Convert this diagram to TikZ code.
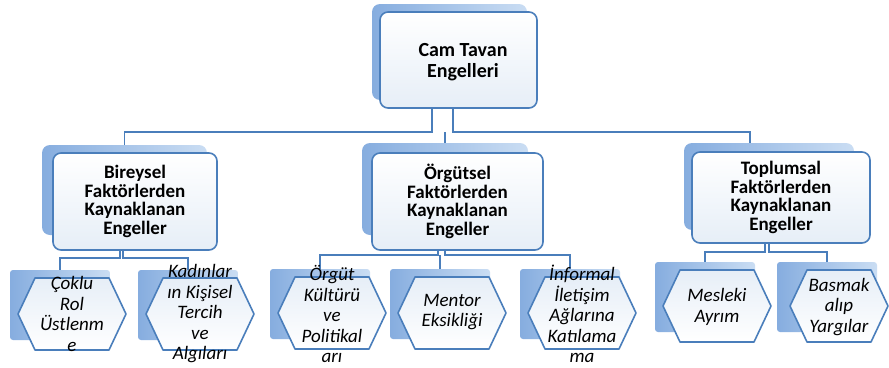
\documentclass[tikz,border=0pt]{standalone}
\usepackage{fontspec}
\setmainfont{Carlito}
\usetikzlibrary{calc}
\definecolor{bord}{HTML}{4A7EBB}
\definecolor{shA}{HTML}{86ADDF}
\definecolor{shB}{HTML}{CADDF3}
\definecolor{frB}{HTML}{E6EEF7}
\tikzset{
  bshadow/.style={rounded corners=8pt, left color=shA, right color=shB, draw=none, inner sep=0pt},
  bfront/.style={rounded corners=8pt, draw=bord, line width=1.6pt, top color=white, bottom color=frB,
                 inner sep=0pt, align=center, font=\fontsize{19}{18.7}\selectfont\bfseries},
  cshadow/.style={rounded corners=3pt, left color=shA, right color=shB, draw=none, inner sep=0pt,
                  minimum width=100pt, minimum height=70pt},
  hexs/.style={draw=bord, line width=1.6pt, top color=frB, bottom color=white, line join=round},
  ctext/.style={align=center, inner sep=0pt, font=\fontsize{19}{20.5}\selectfont\itshape},
  conn/.style={draw=bord, line width=1.8pt}
}
\newcommand\hexa[3]{%
  \path[hexs] ({#1-#3},#2) -- ({#1-#3+17},{#2-36}) -- ({#1+#3-17},{#2-36}) -- ({#1+#3},#2)
     -- ({#1+#3-17},{#2+36}) -- ({#1-#3+17},{#2+36}) -- cycle;}
\begin{document}
\begin{tikzpicture}[x=1pt,y=-1pt]
\useasboundingbox[fill=white] (0,0) rectangle (889,367);

% top box
\node[bshadow, minimum width=155pt, minimum height=96pt] (tsh) at (449.5,52) {};
\node[bfront, minimum width=157pt, minimum height=96pt] (top) at (458.5,60) {};
\node[align=center, inner sep=0pt, font=\fontsize{20}{20.5}\selectfont\bfseries] (toptext) at (463,62) {Cam Tavan\\Engelleri};

% middle shadows
\node[bshadow, minimum width=165pt, minimum height=90pt] (bsh) at (124.5,190) {};
\node[bshadow, minimum width=166pt, minimum height=92pt] (osh) at (445,189) {};
\node[bshadow, minimum width=170pt, minimum height=87pt] (psh) at (769,186.5) {};

% top connectors
\coordinate (jl) at (432,132);
\coordinate (jr) at (453,132);
\draw[conn] (top.south -| jl) -- (jl) -| (bsh.north);
\draw[conn] (top.south -| jr) -- (jr) -| ([xshift=-19pt]psh.north);
\draw[conn] (jr -| osh.north) -- (osh.north);

% middle fronts
\node[bfront, minimum width=164pt, minimum height=97pt] (bir) at (135,201.5) {Bireysel\\Faktörlerden\\Kaynaklanan\\Engeller};
\node[bfront, minimum width=171pt, minimum height=97pt] (org) at (457.5,201.5) {Örgütsel\\Faktörlerden\\Kaynaklanan\\Engeller};
\node[bfront, minimum width=178pt, minimum height=91pt] (top2) at (781,197.5) {Toplumsal\\Faktörlerden\\Kaynaklanan\\Engeller};

% child shadows
\node[cshadow] (s1) at (60,305) {};
\node[cshadow] (s2) at (188,305) {};
\node[cshadow] (s3) at (320,304) {};
\node[cshadow] (s4) at (440,304) {};
\node[cshadow] (s5) at (570,304) {};
\node[cshadow] (s6) at (705,297) {};
\node[cshadow] (s7) at (827,297) {};

% child connectors
\coordinate (b1) at (120,258);
\coordinate (b2) at (123,258);
\draw[conn] (bir.south -| b1) -- (b1) -| (s1.north);
\draw[conn] (bir.south -| b2) -- (b2) -| (s2.north);
\coordinate (o1) at (438,255);
\coordinate (o2) at (445,255);
\draw[conn] (org.south -| o1) -- (o1) -| (s3.north);
\draw[conn] (org.south -| o2) -- (o2) -| (s5.north);
\draw[conn] (o2 -| s4.north) -- (s4.north);
\coordinate (p1) at (765,252);
\coordinate (p2) at (769,252);
\draw[conn] (top2.south -| p1) -- (p1) -| (s6.north);
\draw[conn] (top2.south -| p2) -- (p2) -| (s7.north);

% hexagons
\hexa{72}{314}{54}
\hexa{200}{314}{54}
\hexa{332}{313}{54}
\hexa{452}{313}{54}
\hexa{582}{313}{54}
\hexa{717}{306}{54}
\hexa{839}{306}{49}

% child texts
\node[ctext] (c1) at (72,314) {Çoklu\\Rol\\Üstlenm\\e};
\node[ctext] (c2) at (200,314) {Kadınlar\\ın Kişisel\\Tercih\\ve\\Algıları};
\node[ctext] (c3) at (332,314) {Örgüt\\Kültürü\\ve\\Politikal\\arı};
\node[ctext] (c4) at (452,312) {Mentor\\Eksikliği};
\node[ctext] (c5) at (582,314) {İnformal\\İletişim\\Ağlarına\\Katılama\\ma};
\node[ctext] (c6) at (717,307) {Mesleki\\Ayrım};
\node[ctext] (c7) at (839,307) {Basmak\\alıp\\Yargılar};
\end{tikzpicture}
\end{document}
